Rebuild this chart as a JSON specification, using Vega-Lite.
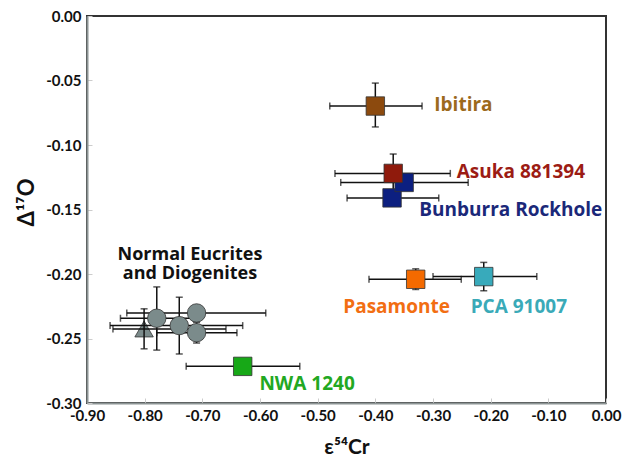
{
  "$schema": "https://vega.github.io/schema/vega-lite/v6.json",
  "width": 519,
  "height": 387,
  "autosize": {"type": "none"},
  "padding": {"left": 87, "top": 16, "right": 18, "bottom": 54},
  "background": "white",
  "config": {
    "view": {"stroke": "#333333", "strokeWidth": 2},
    "font": "Lato"
  },
  "datasets": {
    "pts": [
      {"name": "Normal Eucrites and Diogenites", "kind": "triangle", "x": -0.801, "y": -0.2426, "xlo": -0.855, "xhi": -0.659, "ylo": -0.258, "yhi": -0.227},
      {"name": "Normal Eucrites and Diogenites", "kind": "circle", "x": -0.779, "y": -0.2343, "xlo": -0.842, "xhi": -0.716, "ylo": -0.259, "yhi": -0.210},
      {"name": "Normal Eucrites and Diogenites", "kind": "circle", "x": -0.710, "y": -0.2302, "xlo": -0.831, "xhi": -0.590, "ylo": -0.234, "yhi": -0.226},
      {"name": "Normal Eucrites and Diogenites", "kind": "circle", "x": -0.740, "y": -0.240, "xlo": -0.860, "xhi": -0.630, "ylo": -0.262, "yhi": -0.218},
      {"name": "Normal Eucrites and Diogenites", "kind": "circle", "x": -0.710, "y": -0.2455, "xlo": -0.779, "xhi": -0.640, "ylo": -0.2535, "yhi": -0.2375},
      {"name": "NWA 1240", "kind": "square", "x": -0.630, "y": -0.2716, "xlo": -0.728, "xhi": -0.531, "ylo": -0.275, "yhi": -0.268},
      {"name": "Pasamonte", "kind": "square", "x": -0.330, "y": -0.2041, "xlo": -0.411, "xhi": -0.251, "ylo": -0.212, "yhi": -0.196},
      {"name": "PCA 91007", "kind": "square", "x": -0.212, "y": -0.202, "xlo": -0.300, "xhi": -0.120, "ylo": -0.213, "yhi": -0.191},
      {"name": "Bunburra Rockhole", "kind": "square", "x": -0.371, "y": -0.141, "xlo": -0.449, "xhi": -0.290, "ylo": -0.146, "yhi": -0.136},
      {"name": "Bunburra Rockhole", "kind": "square", "x": -0.350, "y": -0.129, "xlo": -0.460, "xhi": -0.239, "ylo": -0.134, "yhi": -0.124},
      {"name": "Asuka 881394", "kind": "square", "x": -0.369, "y": -0.122, "xlo": -0.470, "xhi": -0.270, "ylo": -0.137, "yhi": -0.107},
      {"name": "Ibitira", "kind": "square", "x": -0.400, "y": -0.0698, "xlo": -0.479, "xhi": -0.319, "ylo": -0.086, "yhi": -0.052}
    ],
    "labels": [
      {"name": "Ibitira", "label": "Ibitira", "lx": -0.2978, "ly": -0.0736, "anchor": "left"},
      {"name": "Asuka 881394", "label": "Asuka 881394", "lx": -0.259, "ly": -0.1258, "anchor": "left"},
      {"name": "Bunburra Rockhole", "label": "Bunburra Rockhole", "lx": -0.3238, "ly": -0.1548, "anchor": "left"},
      {"name": "Pasamonte", "label": "Pasamonte", "lx": -0.4556, "ly": -0.2305, "anchor": "left"},
      {"name": "PCA 91007", "label": "PCA 91007", "lx": -0.2347, "ly": -0.2305, "anchor": "left"},
      {"name": "NWA 1240", "label": "NWA 1240", "lx": -0.601, "ly": -0.290, "anchor": "left"},
      {"name": "Normal Eucrites and Diogenites", "label": "Normal Eucrites\nand Diogenites", "lx": -0.7214, "ly": -0.1891, "anchor": "center"}
    ]
  },
  "encoding": {
    "x": {
      "type": "quantitative",
      "scale": {"domain": [-0.9, 0], "nice": false, "zero": false},
      "axis": {
        "title": "ε⁵⁴Cr",
        "values": [-0.9, -0.8, -0.7, -0.6, -0.5, -0.4, -0.3, -0.2, -0.1, 0],
        "labelExpr": "replace(format(datum.value, '.2f'), '\u2212', '-')",
        "grid": false,
        "domainColor": "#8c9494",
        "domainWidth": 2,
        "tickColor": "#cccccc",
        "tickSize": -5,
        "tickWidth": 1,
        "labelFont": "Lato",
        "labelFontWeight": "bold",
        "labelFontSize": 15,
        "labelColor": "#111111",
        "labelPadding": 10,
        "labelFlush": false,
        "titleFont": "Lato",
        "titleFontWeight": "bold",
        "titleFontSize": 21,
        "titleColor": "#111111",
        "titleBaseline": "alphabetic",
        "titleY": 50
      }
    },
    "y": {
      "type": "quantitative",
      "scale": {"domain": [-0.3, 0], "nice": false, "zero": false},
      "axis": {
        "title": "Δ¹⁷O",
        "values": [-0.3, -0.25, -0.2, -0.15, -0.1, -0.05, 0],
        "labelExpr": "replace(format(datum.value, '.2f'), '\u2212', '-')",
        "grid": false,
        "domainColor": "#8c9494",
        "domainWidth": 2,
        "tickColor": "#cccccc",
        "tickSize": -5,
        "tickWidth": 1,
        "labelFont": "Lato",
        "labelFontWeight": "bold",
        "labelFontSize": 15,
        "labelColor": "#111111",
        "labelPadding": 11,
        "labelFlush": false,
        "titleFont": "Lato",
        "titleFontWeight": "bold",
        "titleFontSize": 22,
        "titleColor": "#111111",
        "titleBaseline": "alphabetic",
        "titleAngle": -90,
        "titleX": -54,
        "titleY": 186,
        "titleAlign": "center"
      }
    }
  },
  "layer": [
    {
      "data": {"name": "pts"},
      "transform": [{"filter": "datum.kind === 'triangle'"}],
      "mark": {"type": "point", "filled": true, "shape": "triangle-up", "size": 340, "stroke": "#333333", "strokeWidth": 0.8, "opacity": 1},
      "encoding": {
        "x": {"field": "x"},
        "y": {"field": "y"},
        "fill": {"value": "#7b8b8b"}
      }
    },
    {
      "data": {"name": "pts"},
      "mark": {"type": "rule", "color": "#111111", "strokeWidth": 1.5},
      "encoding": {
        "x": {"field": "xlo"},
        "x2": {"field": "xhi"},
        "y": {"field": "y"}
      }
    },
    {
      "data": {"name": "pts"},
      "mark": {"type": "rule", "color": "#111111", "strokeWidth": 1.5},
      "encoding": {
        "x": {"field": "x"},
        "y": {"field": "ylo"},
        "y2": {"field": "yhi"}
      }
    },
    {
      "data": {"name": "pts"},
      "transform": [{"fold": ["xlo", "xhi"], "as": ["k", "xv"]}],
      "mark": {"type": "tick", "orient": "vertical", "color": "#111111", "size": 7, "thickness": 1.5},
      "encoding": {
        "x": {"field": "xv", "type": "quantitative"},
        "y": {"field": "y"}
      }
    },
    {
      "data": {"name": "pts"},
      "transform": [{"fold": ["ylo", "yhi"], "as": ["k", "yv"]}],
      "mark": {"type": "tick", "orient": "horizontal", "color": "#111111", "size": 7, "thickness": 1.5},
      "encoding": {
        "x": {"field": "x"},
        "y": {"field": "yv", "type": "quantitative"}
      }
    },
    {
      "data": {"name": "pts"},
      "transform": [{"filter": "datum.kind !== 'triangle'"}],
      "mark": {"type": "point", "filled": true, "size": 340, "stroke": "#333333", "strokeWidth": 0.8, "opacity": 1},
      "encoding": {
        "x": {"field": "x"},
        "y": {"field": "y"},
        "shape": {
          "field": "kind",
          "type": "nominal",
          "scale": {"domain": ["circle", "square"], "range": ["circle", "square"]},
          "legend": null
        },
        "fill": {
          "field": "name",
          "type": "nominal",
          "scale": {
            "domain": ["Normal Eucrites and Diogenites", "NWA 1240", "Pasamonte", "PCA 91007", "Bunburra Rockhole", "Asuka 881394", "Ibitira"],
            "range": ["#7b8b8b", "#17a817", "#f46a00", "#38aabb", "#0c1f80", "#8f1a0c", "#8c4a0e"]
          },
          "legend": null
        }
      }
    },
    {
      "data": {"name": "labels"},
      "transform": [{"filter": "datum.anchor === 'left'"}],
      "mark": {"type": "text", "font": "Open Sans", "fontWeight": "bold", "fontSize": 19, "baseline": "alphabetic", "align": "left"},
      "encoding": {
        "x": {"field": "lx"},
        "y": {"field": "ly"},
        "text": {"field": "label", "type": "nominal"},
        "color": {
          "field": "name",
          "type": "nominal",
          "scale": {
            "domain": ["Normal Eucrites and Diogenites", "NWA 1240", "Pasamonte", "PCA 91007", "Bunburra Rockhole", "Asuka 881394", "Ibitira"],
            "range": ["#111111", "#22a822", "#f26e12", "#3aaab8", "#1b2879", "#9c1c14", "#9c6a1c"]
          },
          "legend": null
        }
      }
    },
    {
      "data": {"name": "labels"},
      "transform": [{"filter": "datum.anchor === 'center'"}],
      "mark": {"type": "text", "font": "Open Sans", "fontWeight": "bold", "fontSize": 18, "baseline": "alphabetic", "align": "center", "lineBreak": "\n", "lineHeight": 19},
      "encoding": {
        "x": {"field": "lx"},
        "y": {"field": "ly"},
        "text": {"field": "label", "type": "nominal"},
        "color": {
          "field": "name",
          "type": "nominal",
          "scale": {
            "domain": ["Normal Eucrites and Diogenites", "NWA 1240", "Pasamonte", "PCA 91007", "Bunburra Rockhole", "Asuka 881394", "Ibitira"],
            "range": ["#111111", "#22a822", "#f26e12", "#3aaab8", "#1b2879", "#9c1c14", "#9c6a1c"]
          },
          "legend": null
        }
      }
    }
  ]
}
